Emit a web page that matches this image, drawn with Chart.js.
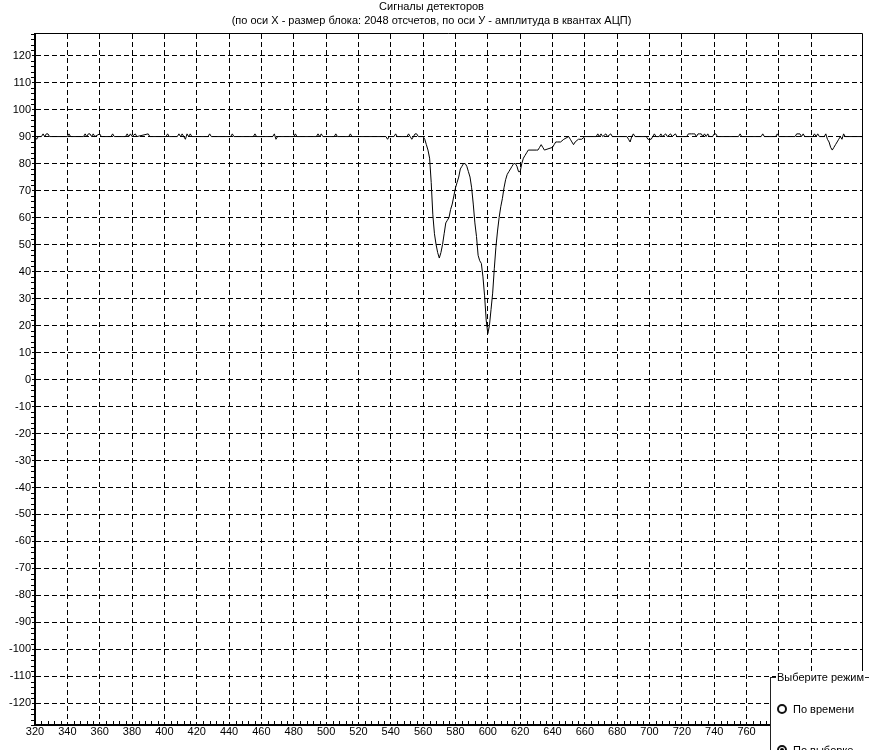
<!DOCTYPE html>
<html>
<head>
<meta charset="utf-8">
<script src="https://cdn.jsdelivr.net/npm/chart.js@4/dist/chart.umd.min.js"></script>
<style>
  body { margin: 0; background: #fff; overflow: hidden; font-family: Arial, "Liberation Sans", sans-serif; }
  #wrap { position: relative; width: 869px; height: 750px; overflow: hidden; }
  .group { position: absolute; left: 770px; top: 677px; width: 140px; height: 110px; background: #fff; border-left: 1px solid #222; border-top: 1px solid #222; }
  .cap { position: absolute; left: 5px; top: -7px; background: #fff; font-size: 11px; line-height: 12px; padding: 0 1px; white-space: nowrap; color: #000; }
  .dot { position: absolute; left: 6px; width: 6px; height: 6px; border: 2px solid #111; border-radius: 50%; background: #fff; }
  .dot.on::after { content: ''; position: absolute; left: 1px; top: 1px; width: 4px; height: 4px; border-radius: 50%; background: #000; }
  .lbl { position: absolute; left: 22px; font-size: 11px; line-height: 12px; white-space: nowrap; color: #000; }
</style>
</head>
<body>
<div id="wrap">
  <canvas id="chart" width="869" height="750"></canvas>
  <div class="group">
    <span class="cap">Выберите режим</span>
    <span class="dot" style="top:26px"></span><span class="lbl" style="top:25px">По времени</span>
    <span class="dot on" style="top:67px"></span><span class="lbl" style="top:66px">По выборке</span>
  </div>
</div>
<script>
// samples (x = sample index, y = ADC amplitude)
const xs = [
  320, 321, 322, 324, 325, 326, 327, 328, 329,
  340, 341, 342,
  350, 351, 352, 353, 354, 355, 356, 357,
  360, 361,
  367, 368, 369,
  376, 377, 378, 379, 380, 382, 383,
  390, 391,
  401, 402, 403,
  408, 409, 410, 411, 412, 413, 414, 415, 416, 417,
  427, 428, 429,
  441, 442, 443,
  455, 456, 457,
  467, 468, 469, 470,
  480, 481, 482,
  494, 495, 496, 497, 498,
  505, 506, 507,
  514, 515, 516,
  537, 538, 539,
  542, 543, 544,
  550, 551, 552, 553, 554, 555, 556, 557, 560,
  561, 562, 563, 564, 565, 566, 567, 568, 569, 570,
  571, 572, 573, 574, 575, 576, 577, 578, 579, 580,
  581, 582, 583, 584, 585, 586, 587, 588, 589, 590,
  591, 592, 593, 594, 595, 596, 597, 598, 599, 600,
  601, 602, 603, 604, 605, 606, 607, 608, 609, 610,
  611, 612, 613, 614, 615, 616, 617, 618, 619, 620,
  621, 622, 623, 624, 625, 630, 631, 632, 633, 634, 635,
  640, 641, 642, 643, 645, 647, 650, 651, 652, 653, 654, 656, 658, 660,
  667, 668, 669, 670, 671, 673, 674, 676, 677,
  686, 687, 688, 689, 690, 691,
  698, 699, 701, 702, 703, 704, 706, 707, 708, 710, 711, 713, 714, 716, 717,
  723, 724, 725, 726, 727, 728, 729, 730, 731, 732, 733, 734, 735, 736, 737,
  739, 740, 741, 742,
  755, 756, 757,
  769, 770, 771,
  778, 779, 780,
  790, 791, 793, 794, 795, 796,
  801, 802, 803, 804, 805,
  808, 809, 810, 811, 812, 813, 814, 815, 816, 817, 818, 819, 820, 821, 832
];
const ys = [
  90, 89, 90, 90, 91, 90, 91, 91, 90,
  90, 91, 90,
  90, 91, 90, 91, 91, 90, 91, 90,
  91, 90,
  90, 91, 90,
  90, 91, 90, 91, 90, 91, 90,
  91, 90,
  90, 91, 90,
  90, 91, 90, 91, 90, 89, 91, 90, 91, 90,
  90, 91, 90,
  90, 91, 90,
  90, 91, 90,
  90, 91, 89, 90,
  90, 91, 90,
  90, 91, 90, 91, 90,
  90, 91, 90,
  90, 91, 90,
  90, 89, 90,
  90, 91, 90,
  90, 91, 90, 89, 90, 91, 91, 90, 90,
  89, 87, 85, 82, 73, 61, 54, 50, 47, 45,
  47, 50, 54, 58, 59, 60, 63, 65, 68, 71,
  73, 75, 78, 79, 80, 80, 79, 77, 75, 71,
  65, 58, 53, 46, 44, 43, 38, 31, 22, 17,
  20, 26, 32, 41, 49, 55, 60, 64, 67, 71,
  74, 76, 77, 78, 79, 80, 80, 79, 77, 77,
  80, 82, 83, 84, 85, 85, 85, 86, 87, 86, 85,
  86, 87, 88, 88, 88, 89, 90, 89, 88, 87, 88, 89, 89, 90,
  90, 91, 90, 91, 90, 91, 90, 91, 90,
  90, 89, 88, 90, 91, 90,
  90, 89, 89, 90, 91, 90, 90, 91, 90, 91, 90, 91, 90, 91, 90,
  90, 91, 91, 91, 91, 91, 90, 91, 91, 91, 90, 91, 90, 91, 90,
  90, 91, 91, 90,
  90, 91, 90,
  90, 91, 90,
  90, 91, 90,
  90, 91, 91, 90, 91, 90,
  90, 91, 90, 91, 90,
  90, 91, 89, 88, 86, 85, 86, 87, 88, 89, 90, 89, 91, 90, 90
];

const titleLines = [
  'Сигналы детекторов',
  '(по оси X - размер блока: 2048 отсчетов, по оси У - амплитуда в квантах АЦП)'
];
const xMin = 320, xMax = 832, xStep = 20, xMinorStep = 4;
const yMin = -128, yMax = 128, yStep = 10, yMinorStep = 2;

const FONT = { family: 'Arial, "Liberation Sans", sans-serif', size: 11, weight: 'normal' };

// top/right frame and the small minor ticks along the axes
const framePlugin = {
  id: 'frame',
  afterDraw(chart) {
    const { ctx, chartArea: a, scales: { x, y } } = chart;
    ctx.save();
    ctx.strokeStyle = '#000';
    ctx.lineWidth = 1;
    ctx.beginPath();
    ctx.moveTo(a.left, a.top - 0.5);
    ctx.lineTo(a.right - 0.5, a.top - 0.5);
    ctx.lineTo(a.right - 0.5, a.bottom);
    ctx.stroke();
    ctx.beginPath();
    for (let v = xMin; v <= xMax; v += xMinorStep) {
      if (v % xStep === 0) continue;
      const px = Math.round(x.getPixelForValue(v)) + 0.5;
      ctx.moveTo(px, a.bottom - 1);
      ctx.lineTo(px, a.bottom - 4);
    }
    for (let v = yMin; v <= yMax; v += yMinorStep) {
      if (v % yStep === 0) continue;
      const py = Math.round(y.getPixelForValue(v)) + 0.5;
      ctx.moveTo(a.left - 4, py);
      ctx.lineTo(a.left - 1, py);
    }
    ctx.stroke();
    ctx.restore();
  }
};

new Chart(document.getElementById('chart'), {
  type: 'line',
  data: {
    datasets: [{
      data: xs.map((x, i) => ({ x, y: ys[i] })),
      borderColor: '#000',
      borderWidth: 1,
      pointRadius: 0,
      tension: 0,
      fill: false
    }]
  },
  options: {
    responsive: false,
    animation: false,
    devicePixelRatio: 1,
    layout: { padding: { top: 0, right: 6, bottom: 0, left: 0 } },
    plugins: {
      legend: { display: false },
      tooltip: { enabled: false },
      title: {
        display: true,
        text: titleLines,
        color: '#000',
        font: { ...FONT, lineHeight: '14px' },
        padding: { top: 0, bottom: 6 }
      }
    },
    scales: {
      x: {
        type: 'linear',
        min: xMin,
        max: xMax,
        afterBuildTicks: s => { s.ticks = s.ticks.filter(t => t.value % xStep === 0); },
        afterFit: s => { s.height = 25; },
        ticks: { stepSize: xStep, color: '#000', font: FONT, padding: 0, maxRotation: 0, autoSkip: false },
        grid: {
          color: c => (c.tick && c.tick.value === xMin) ? 'rgba(0,0,0,0)' : '#000',
          lineWidth: 1,
          drawTicks: false
        },
        border: { color: '#000', width: 2, dash: [5, 3] }
      },
      y: {
        type: 'linear',
        min: yMin,
        max: yMax,
        afterBuildTicks: s => { s.ticks = s.ticks.filter(t => t.value % yStep === 0); },
        afterFit: s => { s.width = 35; },
        ticks: { stepSize: yStep, color: '#000', font: FONT, padding: 1, autoSkip: false },
        grid: { color: '#000', lineWidth: 1, drawTicks: true, tickLength: 3, tickColor: '#000', tickWidth: 1 },
        border: { color: '#000', width: 2, dash: [5, 3] }
      }
    }
  },
  plugins: [framePlugin]
});
</script>
</body>
</html>
